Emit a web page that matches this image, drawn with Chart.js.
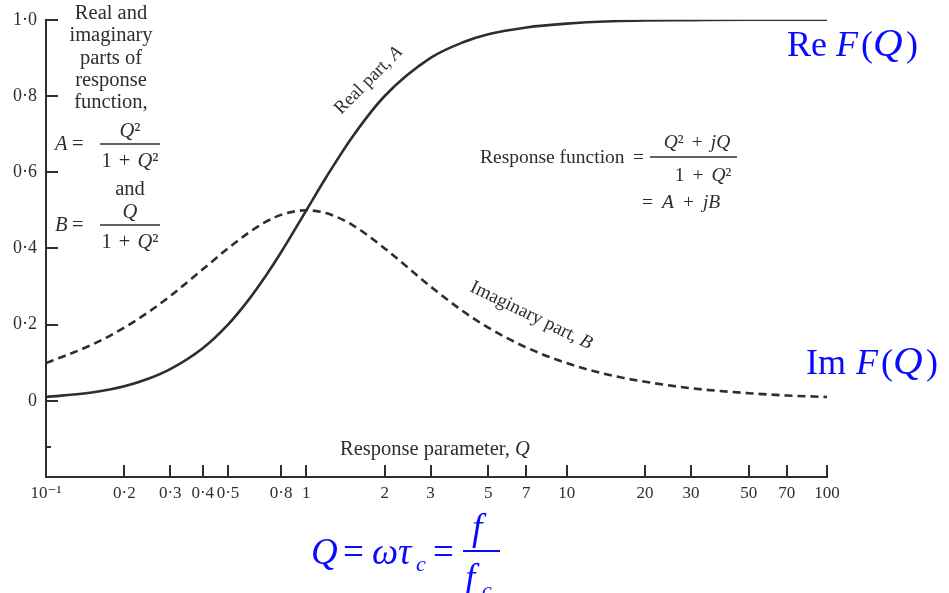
<!DOCTYPE html>
<html>
<head>
<meta charset="utf-8">
<script src="https://cdn.jsdelivr.net/npm/chart.js@4.4.1/dist/chart.umd.min.js"></script>
<style>
  html, body { margin: 0; padding: 0; background: #fff; }
  #responseChart { display: block; }
</style>
</head>
<body>
<canvas id="responseChart" width="949" height="593"></canvas>
<script>
// Response parameter Q and the two parts of the response function
const qValues = [0.1, 0.15, 0.2, 0.25, 0.3, 0.4, 0.5, 0.6, 0.7, 0.8, 1, 1.2, 1.5, 2, 3, 4, 5, 7, 10, 15, 20, 30, 50, 70, 100];
const realPart = [0.01, 0.022, 0.038, 0.059, 0.083, 0.138, 0.2, 0.265, 0.329, 0.39, 0.5, 0.59, 0.692, 0.8, 0.9, 0.941, 0.962, 0.98, 0.99, 0.996, 0.998, 0.999, 1.0, 1.0, 1.0];
const imagPart = [0.099, 0.147, 0.192, 0.235, 0.275, 0.345, 0.4, 0.441, 0.47, 0.488, 0.5, 0.492, 0.462, 0.4, 0.3, 0.235, 0.192, 0.14, 0.099, 0.066, 0.05, 0.033, 0.02, 0.014, 0.01];

// Axis ticks
const xTicks = [0.1, 0.2, 0.3, 0.4, 0.5, 0.8, 1, 2, 3, 5, 7, 10, 20, 30, 50, 70, 100];
const xTickLabels = ["10\u207B\u00B9", "0\u00B72", "0\u00B73", "0\u00B74", "0\u00B75", "0\u00B78", "1", "2", "3", "5", "7", "10", "20", "30", "50", "70", "100"];
const yTicks = [-0.2, 0, 0.2, 0.4, 0.6, 0.8, 1.0];
const yTickLabels = ["", "0", "0\u00B72", "0\u00B74", "0\u00B76", "0\u00B78", "1\u00B70"];
const yMinorTicks = [-0.12];

const ink = "#2e2e2e";
const blue = "#0a0aff";
const serif = "'Liberation Serif', 'DejaVu Serif', serif";

function toPoints(ys) {
  return qValues.map(function(q, i) {
    return { x: q, y: ys[i] };
  });
}

// tick marks point inwards, so they are drawn here instead of by the scales
const inwardTicks = {
  id: "inwardTicks",
  afterDraw(chart) {
    const ctx = chart.ctx;
    const xs = chart.scales.x;
    const ys = chart.scales.y;
    ctx.save();
    ctx.strokeStyle = ink;
    ctx.lineWidth = 2;
    xTicks.forEach(function(v) {
      const px = Math.round(xs.getPixelForValue(v));
      ctx.beginPath();
      ctx.moveTo(px, ys.bottom);
      ctx.lineTo(px, ys.bottom - 12);
      ctx.stroke();
    });
    yTicks.forEach(function(v) {
      if (v === ys.min) return;
      const py = Math.round(ys.getPixelForValue(v));
      ctx.beginPath();
      ctx.moveTo(xs.left, py);
      ctx.lineTo(xs.left + 12, py);
      ctx.stroke();
    });
    yMinorTicks.forEach(function(v) {
      const py = Math.round(ys.getPixelForValue(v));
      ctx.beginPath();
      ctx.moveTo(xs.left, py);
      ctx.lineTo(xs.left + 5, py);
      ctx.stroke();
    });
    ctx.restore();
  }
};

// writes a run of [text, italic] pieces starting at x; a number is a gap in px
function drawRun(ctx, pieces, x, y, size) {
  pieces.forEach(function(p) {
    if (typeof p === "number") { x += p; return; }
    ctx.font = (p[1] ? "italic " : "") + size + "px " + serif;
    ctx.fillText(p[0], x, y);
    x += ctx.measureText(p[0]).width;
  });
  return x;
}

function runWidth(ctx, pieces, size) {
  let w = 0;
  pieces.forEach(function(p) {
    if (typeof p === "number") { w += p; return; }
    ctx.font = (p[1] ? "italic " : "") + size + "px " + serif;
    w += ctx.measureText(p[0]).width;
  });
  return w;
}

function centredRun(ctx, pieces, cx, y, size) {
  drawRun(ctx, pieces, cx - runWidth(ctx, pieces, size) / 2, y, size);
}

function bar(ctx, x1, x2, y, width) {
  ctx.beginPath();
  ctx.moveTo(x1, y);
  ctx.lineTo(x2, y);
  ctx.lineWidth = width;
  ctx.stroke();
}

// single glyph placed at a fixed x
function glyph(ctx, text, italic, x, y, size) {
  ctx.font = (italic ? "italic " : "") + size + "px " + serif;
  ctx.fillText(text, x, y);
}

const notes = {
  id: "notes",
  afterDraw(chart) {
    const ctx = chart.ctx;
    ctx.save();
    ctx.fillStyle = ink;
    ctx.strokeStyle = ink;
    ctx.textBaseline = "alphabetic";

    // left explanation block
    const lf = 20.5;
    ["Real and", "imaginary", "parts of", "response", "function,"].forEach(function(t, i) {
      centredRun(ctx, [[t, false]], 111, 19 + i * 22.3, lf);
    });
    glyph(ctx, "A", true, 55, 150, lf);
    glyph(ctx, "=", false, 72, 150, lf);
    centredRun(ctx, [["Q", true], ["\u00B2", false]], 130, 137, lf);
    bar(ctx, 100, 160, 144, 1.4);
    centredRun(ctx, [["1", false], 7, ["+", false], 7, ["Q", true], ["\u00B2", false]], 130, 167, lf);
    centredRun(ctx, [["and", false]], 130, 195, lf);
    glyph(ctx, "B", true, 55, 231, lf);
    glyph(ctx, "=", false, 72, 231, lf);
    centredRun(ctx, [["Q", true]], 130, 218, lf);
    bar(ctx, 100, 160, 225, 1.4);
    centredRun(ctx, [["1", false], 7, ["+", false], 7, ["Q", true], ["\u00B2", false]], 130, 248, lf);

    // response function block
    const rf = 19.5;
    drawRun(ctx, [["Response function", false]], 480, 163, rf);
    glyph(ctx, "=", false, 633, 163, rf);
    centredRun(ctx, [["Q", true], ["\u00B2", false], 8, ["+", false], 8, ["jQ", true]], 697, 148, rf);
    bar(ctx, 650, 737, 157, 1.4);
    centredRun(ctx, [["1", false], 8, ["+", false], 8, ["Q", true], ["\u00B2", false]], 703, 181, rf);
    drawRun(ctx, [["=", false], 9, ["A", true], 9, ["+", false], 9, ["jB", true]], 642, 208, rf);

    // axis title
    drawRun(ctx, [["Response parameter, ", false], ["Q", true]], 340, 455, 20.5);

    // curve labels along the lines
    ctx.save();
    ctx.translate(372, 84);
    ctx.rotate(-45 * Math.PI / 180);
    centredRun(ctx, [["Real part, ", false], ["A", true]], 0, 0, 18.5);
    ctx.restore();
    ctx.save();
    ctx.translate(529, 320);
    ctx.rotate(26 * Math.PI / 180);
    centredRun(ctx, [["Imaginary part, ", false], ["B", true]], 0, 0, 19);
    ctx.restore();

    // blue annotations
    ctx.fillStyle = blue;
    ctx.strokeStyle = blue;
    const bf = 36;
    glyph(ctx, "Re", false, 787, 56, bf);
    glyph(ctx, "F", true, 836, 56, bf);
    glyph(ctx, "(", false, 861, 56, bf);
    glyph(ctx, "Q", true, 873, 56, 41);
    glyph(ctx, ")", false, 906, 56, bf);

    glyph(ctx, "Im", false, 806, 374, bf);
    glyph(ctx, "F", true, 856, 374, bf);
    glyph(ctx, "(", false, 881, 374, bf);
    glyph(ctx, "Q", true, 893, 374, 41);
    glyph(ctx, ")", false, 926, 374, bf);

    const ff = 37;
    glyph(ctx, "Q", true, 311, 564, ff);
    glyph(ctx, "=", false, 343, 564, ff);
    glyph(ctx, "\u03C9\u03C4", true, 372, 564, ff);
    glyph(ctx, "c", true, 416, 571, 22);
    glyph(ctx, "=", false, 433, 564, ff);
    glyph(ctx, "f", true, 472, 540, ff);
    bar(ctx, 463, 500, 551, 2);
    glyph(ctx, "f", true, 465, 590, ff);
    glyph(ctx, "c", true, 482, 597, 22);

    ctx.restore();
  }
};

new Chart(document.getElementById("responseChart"), {
  type: "line",
  data: {
    datasets: [
      {
        label: "Real part, A",
        data: toPoints(realPart),
        borderColor: ink,
        borderWidth: 2.6,
        pointRadius: 0,
        fill: false,
        cubicInterpolationMode: "monotone"
      },
      {
        label: "Imaginary part, B",
        data: toPoints(imagPart),
        borderColor: ink,
        borderWidth: 2.6,
        borderDash: [8, 5],
        pointRadius: 0,
        fill: false,
        cubicInterpolationMode: "monotone"
      }
    ]
  },
  options: {
    responsive: false,
    animation: false,
    layout: { padding: { left: 0, right: 122, top: 17, bottom: 0 } },
    plugins: {
      legend: { display: false },
      tooltip: { enabled: false }
    },
    scales: {
      x: {
        type: "logarithmic",
        min: 0.1,
        max: 100,
        afterBuildTicks: function(scale) {
          scale.ticks = xTicks.map(function(v) { return { value: v }; });
        },
        afterFit: function(scale) { scale.height = 116; },
        grid: { display: true, drawOnChartArea: false, drawTicks: false },
        border: { color: ink, width: 2 },
        ticks: {
          autoSkip: false,
          maxRotation: 0,
          padding: 6,
          color: ink,
          font: { family: serif, size: 17 },
          callback: function(value) {
            return xTickLabels[xTicks.indexOf(value)];
          }
        }
      },
      y: {
        min: -0.2,
        max: 1.0,
        afterBuildTicks: function(scale) {
          scale.ticks = yTicks.map(function(v) { return { value: v }; });
        },
        afterFit: function(scale) { scale.width = 46; },
        grid: { display: true, drawOnChartArea: false, drawTicks: false },
        border: { color: ink, width: 2 },
        ticks: {
          padding: 9,
          color: ink,
          font: { family: serif, size: 18 },
          callback: function(value) {
            const i = yTicks.findIndex(function(v) { return Math.abs(v - value) < 1e-9; });
            return yTickLabels[i];
          }
        }
      }
    }
  },
  plugins: [inwardTicks, notes]
});
</script>
</body>
</html>
